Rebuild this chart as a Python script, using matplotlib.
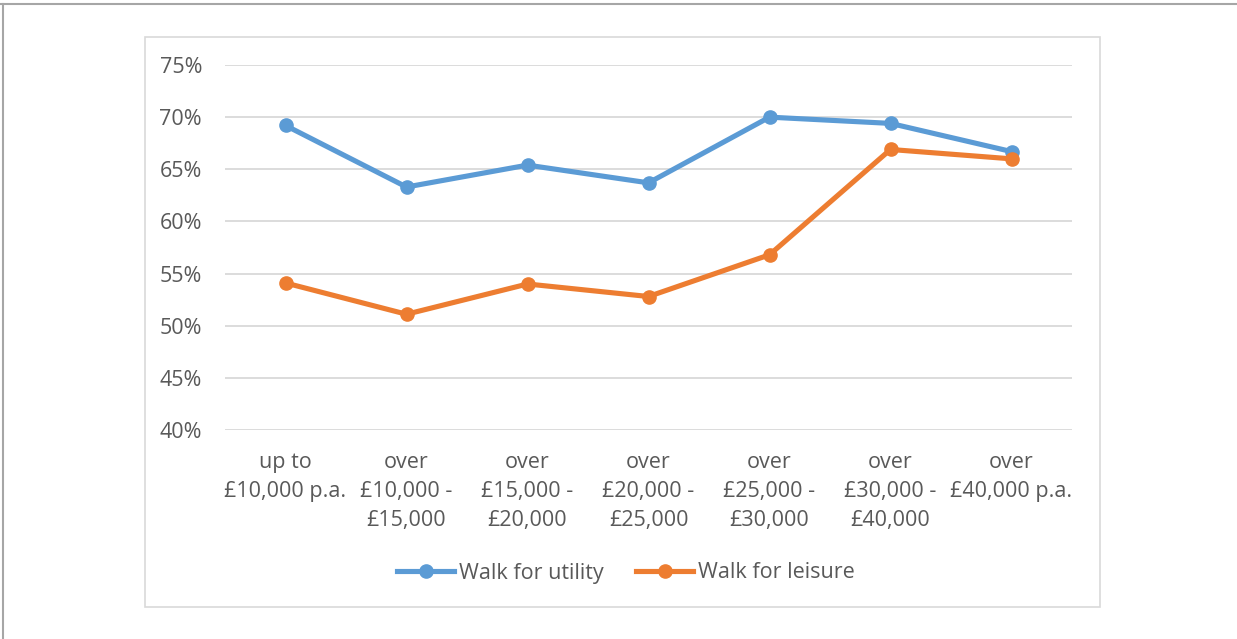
import matplotlib.pyplot as plt
from matplotlib.patches import Rectangle
from matplotlib.lines import Line2D

# income bands and walking shares
categories = ['up to\n£10,000 p.a.', 'over\n£10,000 -\n£15,000', 'over\n£15,000 -\n£20,000',
              'over\n£20,000 -\n£25,000', 'over\n£25,000 -\n£30,000', 'over\n£30,000 -\n£40,000',
              'over\n£40,000 p.a.']
utility = [0.692, 0.633, 0.654, 0.637, 0.700, 0.694, 0.667]
leisure = [0.541, 0.511, 0.540, 0.528, 0.568, 0.669, 0.660]
yticks = [0.40, 0.45, 0.50, 0.55, 0.60, 0.65, 0.70, 0.75]

plt.rcParams['font.family'] = ['Open Sans', 'DejaVu Sans']
blue = '#5B9BD5'
orange = '#ED7D31'
grey = '#595959'
fs = 15.5

fig = plt.figure(figsize=(12.37, 6.39), dpi=100)

# outer frame lines and chart border
fig.add_artist(Line2D([0, 1], [1 - 4/639, 1 - 4/639], color='#A6A6A6', lw=1.5))
fig.add_artist(Line2D([3/1237, 3/1237], [0, 1 - 4/639], color='#A6A6A6', lw=1.5))
fig.add_artist(Rectangle((145/1237, 1 - 607/639), 955/1237, 570/639, transform=fig.transFigure,
                         fill=False, edgecolor='#D9D9D9', lw=1.2))

ax = fig.add_axes([225/1237, 1 - 430/639, 847/1237, 365/639])
x = range(len(categories))
ax.plot(x, utility, color=blue, lw=3.7, marker='o', ms=9.5, label='Walk for utility', zorder=3)
ax.plot(x, leisure, color=orange, lw=3.7, marker='o', ms=9.5, label='Walk for leisure', zorder=3)

ax.set_xlim(-0.5, len(categories) - 0.5)
ax.set_ylim(0.40, 0.75)
ax.set_yticks(yticks)
ax.set_yticklabels(['{:.0f}%'.format(v * 100) for v in yticks])
ax.set_xticks(list(x))
ax.set_xticklabels(categories, linespacing=1.5)
ax.grid(axis='y', color='#D9D9D9', lw=1.3)
ax.set_axisbelow(True)
for s in ax.spines.values():
    s.set_visible(False)
ax.tick_params(axis='both', length=0, colors=grey, labelsize=fs)
ax.tick_params(axis='y', pad=16.5)
ax.tick_params(axis='x', pad=16)
for lab in ax.get_xticklabels():
    lab.set_verticalalignment('top')

ax.legend(loc='center', bbox_to_anchor=(626/1237, 1 - 573/639), bbox_transform=fig.transFigure,
          ncol=2, frameon=False, fontsize=fs, handlelength=2.65, handletextpad=0.23,
          columnspacing=1.5, labelcolor=grey)

plt.savefig('out.png', dpi=100)
